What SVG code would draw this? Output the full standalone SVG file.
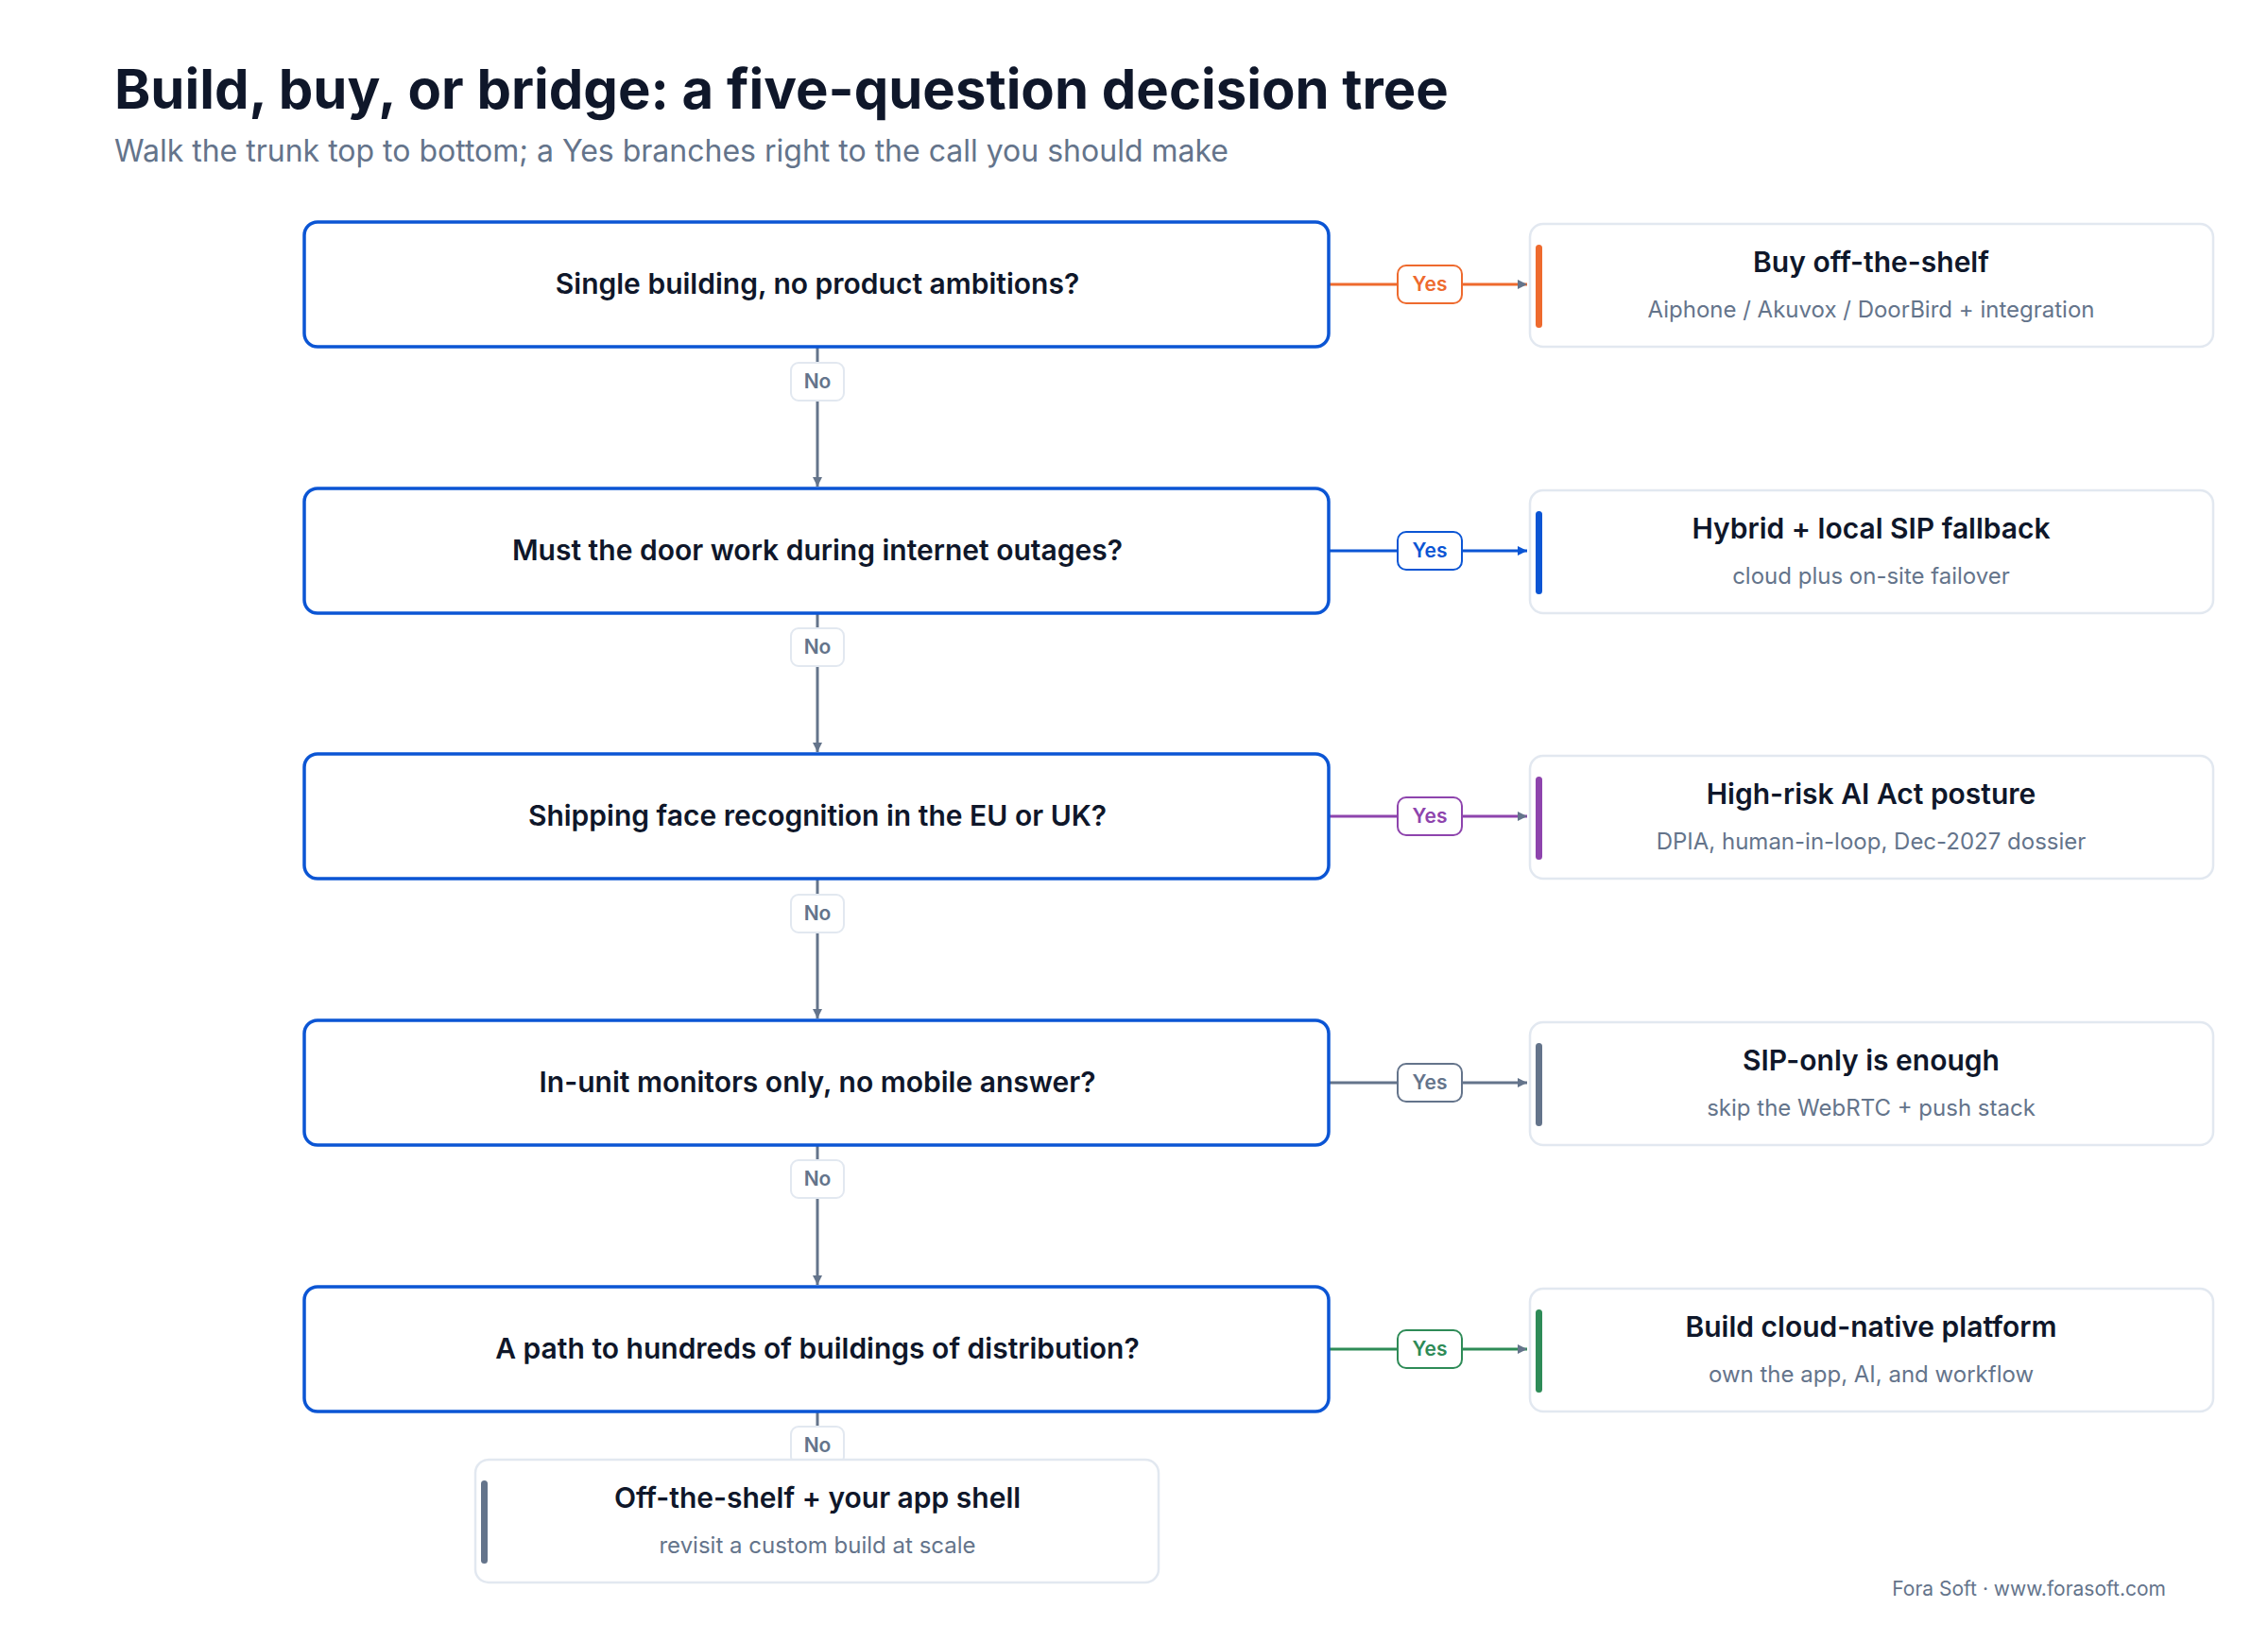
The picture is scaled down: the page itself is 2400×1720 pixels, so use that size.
<svg xmlns="http://www.w3.org/2000/svg" width="2400" height="1720" viewBox="0 0 2400 1720">
<defs>
<style>
text{font-family:Inter,"Noto Sans","Liberation Sans",sans-serif}
.q{fill:#fff;stroke:#0B55D4;stroke-width:3.5}
.qt{font-size:30px;font-weight:600;fill:#0F172A;text-anchor:middle}
.r{fill:#fff;stroke:#E2E8F0;stroke-width:2.5}
.rt{font-size:30px;font-weight:600;fill:#0F172A;text-anchor:middle}
.rs{font-size:24px;fill:#64748B;text-anchor:middle}
.nl{fill:#fff;stroke:#E2E8F0;stroke-width:2}
.nt{font-size:21px;font-weight:600;fill:#64748B;text-anchor:middle}
.yt{font-size:21px;font-weight:600;text-anchor:middle}
.trunk{stroke:#64748B;stroke-width:3;fill:none}
</style>
<marker id="ag" viewBox="0 0 10 10" refX="10" refY="5" markerWidth="10" markerHeight="10" markerUnits="userSpaceOnUse" orient="auto"><path d="M0,0L10,5L0,10z" fill="#64748B"/></marker>
<marker id="ab" viewBox="0 0 10 10" refX="10" refY="5" markerWidth="10" markerHeight="10" markerUnits="userSpaceOnUse" orient="auto"><path d="M0,0L10,5L0,10z" fill="#0B55D4"/></marker>
</defs>
<rect width="2400" height="1720" fill="#fff"/>
<text x="121" y="115" font-size="58" font-weight="700" fill="#0F172A">Build, buy, or bridge: a five-question decision tree</text>
<text x="121" y="171" font-size="32" fill="#64748B">Walk the trunk top to bottom; a Yes branches right to the call you should make</text>

<g id="connectors">
<g stroke-width="3" fill="none">
<path class="trunk" d="M865 368V515" style="marker-end:url(#ag)" marker-end="url(#ag)"/>
<path class="trunk" d="M865 650V796" marker-end="url(#ag)"/>
<path class="trunk" d="M865 931V1078" marker-end="url(#ag)"/>
<path class="trunk" d="M865 1213V1360" marker-end="url(#ag)"/>
<path class="trunk" d="M865 1495V1545"/>
<path d="M1406 301H1616" stroke="#EE6A2E" marker-end="url(#ag)"/>
<path d="M1406 583H1616" stroke="#0B55D4" marker-end="url(#ab)"/>
<path d="M1406 864H1616" stroke="#8E44AD" marker-end="url(#ag)"/>
<path d="M1406 1146H1616" stroke="#64748B" marker-end="url(#ag)"/>
<path d="M1406 1428H1616" stroke="#2E8B57" marker-end="url(#ag)"/>
</g>
<g>
<rect class="nl" x="837" y="384" width="56" height="40" rx="8"/><text class="nt" x="865" y="411">No</text>
<rect class="nl" x="837" y="665" width="56" height="40" rx="8"/><text class="nt" x="865" y="692">No</text>
<rect class="nl" x="837" y="947" width="56" height="40" rx="8"/><text class="nt" x="865" y="974">No</text>
<rect class="nl" x="837" y="1228" width="56" height="40" rx="8"/><text class="nt" x="865" y="1255">No</text>
<rect class="nl" x="837" y="1510" width="56" height="40" rx="8"/><text class="nt" x="865" y="1537">No</text>
</g>
<g stroke-width="2" fill="#fff">
<rect x="1479" y="281" width="68" height="40" rx="9" stroke="#EE6A2E"/><text class="yt" x="1513" y="308" fill="#EE6A2E">Yes</text>
<rect x="1479" y="563" width="68" height="40" rx="9" stroke="#0B55D4"/><text class="yt" x="1513" y="590" fill="#0B55D4">Yes</text>
<rect x="1479" y="844" width="68" height="40" rx="9" stroke="#8E44AD"/><text class="yt" x="1513" y="871" fill="#8E44AD">Yes</text>
<rect x="1479" y="1126" width="68" height="40" rx="9" stroke="#64748B"/><text class="yt" x="1513" y="1153" fill="#64748B">Yes</text>
<rect x="1479" y="1408" width="68" height="40" rx="9" stroke="#2E8B57"/><text class="yt" x="1513" y="1435" fill="#2E8B57">Yes</text>
</g>
</g>

<g id="q1"><rect class="q" x="322" y="235" width="1084" height="132" rx="14"/><text class="qt" x="865" y="311">Single building, no product ambitions?</text></g>
<g id="q2"><rect class="q" x="322" y="517" width="1084" height="132" rx="14"/><text class="qt" x="865" y="593">Must the door work during internet outages?</text></g>
<g id="q3"><rect class="q" x="322" y="798" width="1084" height="132" rx="14"/><text class="qt" x="865" y="874">Shipping face recognition in the EU or UK?</text></g>
<g id="q4"><rect class="q" x="322" y="1080" width="1084" height="132" rx="14"/><text class="qt" x="865" y="1156">In-unit monitors only, no mobile answer?</text></g>
<g id="q5"><rect class="q" x="322" y="1362" width="1084" height="132" rx="14"/><text class="qt" x="865" y="1438">A path to hundreds of buildings of distribution?</text></g>

<g id="r1"><rect class="r" x="1619" y="237" width="723" height="130" rx="14"/><rect x="1625" y="259" width="7" height="88" rx="3.5" fill="#EE6A2E"/><text class="rt" x="1980" y="288">Buy off-the-shelf</text><text class="rs" x="1980" y="336">Aiphone / Akuvox / DoorBird + integration</text></g>
<g id="r2"><rect class="r" x="1619" y="519" width="723" height="130" rx="14"/><rect x="1625" y="541" width="7" height="88" rx="3.5" fill="#0B55D4"/><text class="rt" x="1980" y="570">Hybrid + local SIP fallback</text><text class="rs" x="1980" y="618">cloud plus on-site failover</text></g>
<g id="r3"><rect class="r" x="1619" y="800" width="723" height="130" rx="14"/><rect x="1625" y="822" width="7" height="88" rx="3.5" fill="#8E44AD"/><text class="rt" x="1980" y="851">High-risk AI Act posture</text><text class="rs" x="1980" y="899">DPIA, human-in-loop, Dec-2027 dossier</text></g>
<g id="r4"><rect class="r" x="1619" y="1082" width="723" height="130" rx="14"/><rect x="1625" y="1104" width="7" height="88" rx="3.5" fill="#64748B"/><text class="rt" x="1980" y="1133">SIP-only is enough</text><text class="rs" x="1980" y="1181">skip the WebRTC + push stack</text></g>
<g id="r5"><rect class="r" x="1619" y="1364" width="723" height="130" rx="14"/><rect x="1625" y="1386" width="7" height="88" rx="3.5" fill="#2E8B57"/><text class="rt" x="1980" y="1415">Build cloud-native platform</text><text class="rs" x="1980" y="1463">own the app, AI, and workflow</text></g>
<g id="r6"><rect class="r" x="503" y="1545" width="723" height="130" rx="14"/><rect x="509" y="1567" width="7" height="88" rx="3.5" fill="#64748B"/><text class="rt" x="865" y="1596">Off-the-shelf + your app shell</text><text class="rs" x="865" y="1644">revisit a custom build at scale</text></g>

<text x="2292" y="1689" font-size="21" fill="#64748B" text-anchor="end">Fora Soft · www.forasoft.com</text>
</svg>
